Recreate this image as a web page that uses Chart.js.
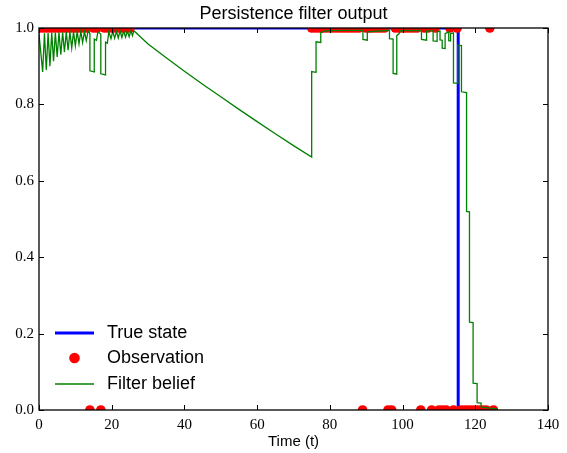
<!DOCTYPE html>
<html>
<head>
<meta charset="utf-8">
<script src="https://cdn.jsdelivr.net/npm/chart.js@4.4.1/dist/chart.umd.min.js"></script>
<style>
  html, body { margin: 0; padding: 0; background: #fff; }
  #wrap { width: 567px; height: 453px; }
</style>
</head>
<body>
<div id="wrap"><canvas id="chart" width="567" height="453"></canvas></div>
<script>
/* ---------------------------------------------------------------------------------*/
/* Data */
/* ---------------------------------------------------------------------------------*/

// True state: 1 until the feature vanishes, then 0
const trueTime  = [0, 115.3, 115.3, 126];
const trueValue = [1, 1, 0, 0];

// Observations (1 = detected, 0 = missed)
const obsTime = [
   0, 1, 2, 3, 4, 5, 6, 7, 8, 9, 10, 11, 12, 13, 14, 15, 16, 17, 18, 19, 20, 21, 22, 23, 24, 25,
   75, 76, 77, 78, 79, 80, 81, 82, 83, 84, 85, 86, 87, 88, 89, 90, 91, 92, 93, 94, 95, 96, 97, 98, 99,
   100, 101, 102, 103, 104, 105, 106, 107, 108, 109, 110, 111, 112, 113, 114, 115, 116, 117, 118, 119,
   120, 121, 122, 123, 124, 125
];
const obsValue = [
   1, 1, 1, 1, 1, 1, 1, 1, 1, 1, 1, 1, 1, 1, 0, 1, 1, 0, 1, 1, 1, 1, 1, 1, 1, 1,
   1, 1, 1, 1, 1, 1, 1, 1, 1, 1, 1, 1, 1, 1, 0, 1, 1, 1, 1, 1, 1, 0, 0, 1, 1,
   1, 1, 1, 1, 1, 0, 1, 1, 0, 1, 0, 0, 0, 1, 0, 1, 0, 0, 0, 0,
   0, 0, 0, 0, 1, 0
];

// Filter belief p(X_t = 1 | observations)
const beliefTime = [
   0, 1, 1.5, 2, 2.5, 3, 3.5, 4, 4.5, 5, 5.5, 6, 6.5, 7, 7.5, 8, 8.5, 9, 9.5, 10, 10.5, 11, 11.5, 12, 12.5, 13, 13.5,
   14, 14, 15.2, 15.2, 15.8, 16.2, 17, 17, 18.3, 18.3, 18.8, 19.2,
   19.8, 20.3, 20.8, 21.3, 21.8, 22.3, 22.8, 23.3, 23.8, 24.3, 24.8, 25.3, 25.7, 26.1,
   30, 35, 40, 45, 50, 55, 60, 65, 70, 75,
   75, 76.2, 76.2, 77.5, 77.5, 78.5, 80, 85, 89.1,
   89.1, 90.3, 90.3, 96.4, 96.4, 97.4, 97.4, 98.4, 98.4, 99, 99.5,
   105.2, 105.2, 106.6, 106.6, 108.4, 108.4, 109.5, 109.5,
   110.3, 110.3, 110.9, 110.9, 111.7, 111.7, 112.7, 112.7, 113.2, 113.2,
   114, 114, 115.2, 115.2, 116.2, 116.2, 117.6, 117.6, 118.4, 118.4, 119.4, 119.4,
   120.5, 120.5, 121.6, 121.6, 124, 126
];
const beliefValue = [
   0.985, 0.885, 0.986, 0.89, 0.987, 0.90, 0.988, 0.913, 0.988, 0.924, 0.989, 0.93, 0.989, 0.937, 0.99, 0.942, 0.99,
   0.948, 0.99, 0.953, 0.991, 0.958, 0.991, 0.962, 0.991, 0.967, 0.992,
   0.986, 0.888, 0.885, 0.971, 0.968, 0.99, 0.984, 0.88, 0.877, 0.963, 0.96, 0.99,
   0.972, 0.991, 0.973, 0.991, 0.974, 0.992, 0.975, 0.992, 0.976, 0.992, 0.977, 0.993, 0.98, 0.993,
   0.958, 0.922, 0.887, 0.853, 0.820, 0.787, 0.755, 0.723, 0.692, 0.662,
   0.886, 0.884, 0.964, 0.962, 0.988, 0.992, 0.993, 0.994, 0.994,
   0.97, 0.968, 0.99, 0.994, 0.972, 0.971, 0.881, 0.879, 0.98, 0.985, 0.993,
   0.994, 0.97, 0.968, 0.992, 0.993, 0.966, 0.965, 0.99,
   0.992, 0.969, 0.968, 0.947, 0.946, 0.985, 0.99, 0.967, 0.966, 0.985,
   0.987, 0.856, 0.855, 0.955, 0.954, 0.833, 0.831, 0.52, 0.519, 0.23, 0.229, 0.07,
   0.069, 0.019, 0.018, 0.008, 0.005, 0.003
];

// Axes
const xTicks = [0, 20, 40, 60, 80, 100, 120, 140];
const yTicks = [0.0, 0.2, 0.4, 0.6, 0.8, 1.0];

const seriesNames = ['True state', 'Observation', 'Filter belief'];

/* ---------------------------------------------------------------------------------*/
/* Helpers */
/* ---------------------------------------------------------------------------------*/

const toPoints = (xs, ys) => xs.map((x, i) => ({ x: x, y: ys[i] }));

const TICK_LEN = 5;
const SANS = '"Liberation Sans", Arial, sans-serif';
const SERIF = '"Liberation Serif", "DejaVu Serif", serif';

// Clip every mark to the plot area, then draw the frame with inward ticks
// on all four sides (classic matplotlib look)
const frameAndTicks = {
   id: 'frameAndTicks',
   beforeDatasetsDraw(chart) {
      const { ctx, chartArea: a } = chart;
      ctx.save();
      ctx.beginPath();
      ctx.rect(a.left, a.top, a.right - a.left, a.bottom - a.top);
      ctx.clip();
   },
   afterDatasetsDraw(chart) {
      const { ctx, chartArea: a, scales: { x, y } } = chart;
      ctx.restore();
      ctx.save();
      ctx.strokeStyle = '#000';
      ctx.lineWidth = 1;
      ctx.beginPath();
      xTicks.forEach(v => {
         const px = Math.round(x.getPixelForValue(v)) + 0.5;
         ctx.moveTo(px, a.bottom); ctx.lineTo(px, a.bottom - TICK_LEN);
         ctx.moveTo(px, a.top);    ctx.lineTo(px, a.top + TICK_LEN);
      });
      yTicks.forEach(v => {
         const py = Math.round(y.getPixelForValue(v)) + 0.5;
         ctx.moveTo(a.left, py);  ctx.lineTo(a.left + TICK_LEN, py);
         ctx.moveTo(a.right, py); ctx.lineTo(a.right - TICK_LEN, py);
      });
      ctx.stroke();
      ctx.lineWidth = 1.3;
      ctx.strokeRect(a.left, a.top, a.right - a.left, a.bottom - a.top);
      ctx.restore();
   }
};

// Title centred over the plot area
const plotTitle = {
   id: 'plotTitle',
   afterDraw(chart) {
      const { ctx, chartArea: a } = chart;
      ctx.save();
      ctx.fillStyle = '#000';
      ctx.font = '18px ' + SANS;
      ctx.textAlign = 'center';
      ctx.textBaseline = 'middle';
      ctx.fillText('Persistence filter output', (a.left + a.right) / 2, 14);
      ctx.restore();
   }
};

// Frameless legend in the lower left corner of the plot
const plotLegend = {
   id: 'plotLegend',
   afterDraw(chart) {
      const { ctx, chartArea: a } = chart;
      const ds = chart.data.datasets;
      const x0 = a.left + 16, x1 = a.left + 55, xt = a.left + 68;
      const rows = [a.bottom - 77, a.bottom - 52, a.bottom - 26];
      ctx.save();
      ctx.font = '18px ' + SANS;
      ctx.textBaseline = 'middle';
      ctx.textAlign = 'left';
      ds.forEach((d, i) => {
         const yy = rows[i];
         if (d.showLine === false) {
            ctx.fillStyle = d.backgroundColor;
            ctx.beginPath();
            ctx.arc((x0 + x1) / 2, yy, d.pointRadius + 0.5, 0, Math.PI * 2);
            ctx.fill();
         } else {
            ctx.strokeStyle = d.borderColor;
            ctx.lineWidth = d.borderWidth;
            ctx.beginPath();
            ctx.moveTo(x0, yy);
            ctx.lineTo(x1, yy);
            ctx.stroke();
         }
         ctx.fillStyle = '#000';
         ctx.fillText(d.label, xt, yy);
      });
      ctx.restore();
   }
};

/* ---------------------------------------------------------------------------------*/
/* Chart */
/* ---------------------------------------------------------------------------------*/

const ctx = document.querySelector('#chart');

const data = {
   datasets: [
      {
         label: seriesNames[0],
         data: toPoints(trueTime, trueValue),
         showLine: true,
         borderColor: '#0000ff',
         borderWidth: 3,
         pointRadius: 0,
         tension: 0,
         clip: 0,
         order: 2
      },
      {
         label: seriesNames[1],
         data: toPoints(obsTime, obsValue),
         showLine: false,
         backgroundColor: '#ff0000',
         borderWidth: 0,
         pointRadius: 4.8,
         pointHoverRadius: 4.8,
         clip: 0,
         order: 1
      },
      {
         label: seriesNames[2],
         data: toPoints(beliefTime, beliefValue),
         showLine: true,
         borderColor: '#008000',
         borderWidth: 1.3,
         pointRadius: 0,
         tension: 0,
         clip: 0,
         order: 0
      }
   ]
};

const config = {
   type: 'scatter',
   data: data,
   options: {
      responsive: false,
      animation: false,
      events: [],
      layout: { padding: { top: 28, right: 19, left: 0, bottom: 0 } },
      plugins: {
         legend: { display: false },
         tooltip: { enabled: false }
      },
      scales: {
         x: {
            type: 'linear',
            min: 0,
            max: 140,
            afterFit: s => { s.height = 43; },
            afterBuildTicks: s => { s.ticks = xTicks.map(v => ({ value: v })); },
            grid: { display: false, drawTicks: false },
            border: { display: false },
            ticks: {
               padding: 6,
               color: '#000',
               font: { family: SERIF, size: 15 },
               maxRotation: 0,
               callback: v => String(v)
            },
            title: {
               display: true,
               text: 'Time (t)',
               color: '#000',
               font: { family: SANS, size: 15 },
               padding: { top: 0, bottom: 2 }
            }
         },
         y: {
            type: 'linear',
            min: 0,
            max: 1,
            afterFit: s => { s.width = 39; },
            afterBuildTicks: s => { s.ticks = yTicks.map(v => ({ value: v })); },
            grid: { display: false, drawTicks: false },
            border: { display: false },
            ticks: {
               padding: 5,
               color: '#000',
               font: { family: SERIF, size: 15 },
               callback: v => Number(v).toFixed(1)
            }
         }
      }
   },
   plugins: [frameAndTicks, plotTitle, plotLegend]
};

const beliefChart = new Chart(ctx, config);
</script>
</body>
</html>
